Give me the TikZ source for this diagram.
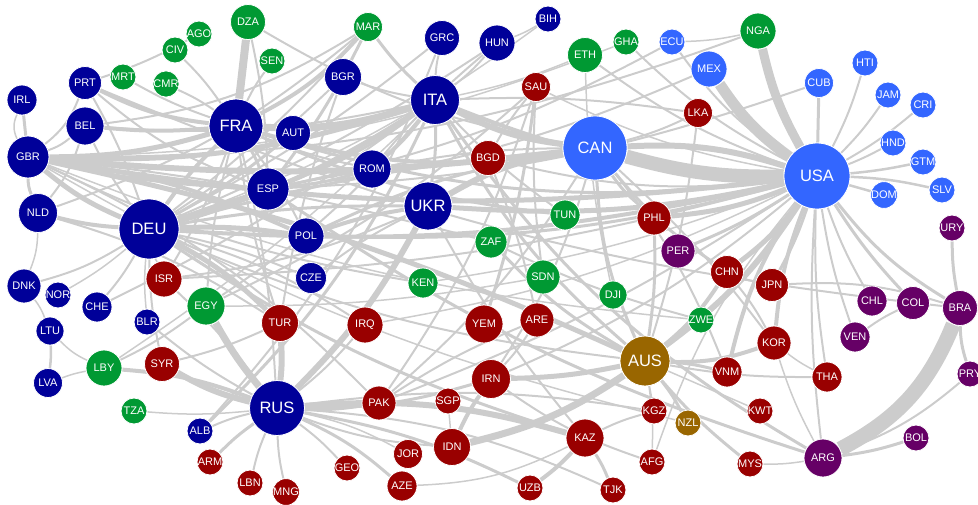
\documentclass[tikz,border=0pt]{standalone}
\usepackage{fontspec}
\setmainfont{Liberation Sans}
\usetikzlibrary{backgrounds}
\definecolor{eu}{HTML}{000099}
\definecolor{na}{HTML}{3366FF}
\definecolor{af}{HTML}{009933}
\definecolor{as}{HTML}{990000}
\definecolor{sa}{HTML}{660066}
\definecolor{oc}{HTML}{996600}
\definecolor{ed}{HTML}{CCCCCC}
\tikzset{
 ctry/.style={circle, draw=white, line width=0.8pt, inner sep=0pt, text=white, font=\fontsize{11}{12}\selectfont},
 bigc/.style={font=\fontsize{16.5}{17}\selectfont},
 lnk/.style={draw=ed, line width=#1pt},
}
\newcommand\cn[4]{\node[ctry, fill=#1, minimum size=#2*2pt] (#3) at (#4) {#3};}
\newcommand\cb[4]{\node[ctry, bigc, fill=#1, minimum size=#2*2pt] (#3) at (#4) {#3};}
\newcommand\lk[4]{\draw[lnk=#3] (#1) to[bend left=#4] (#2);}
\begin{document}
\begin{tikzpicture}[x=1pt,y=-1pt]
\useasboundingbox (0,0) rectangle (978,504);
% Europe
\cn{eu}{15}{IRL}{22,100}
\cn{eu}{16.5}{PRT}{85,83}
\cn{eu}{19}{BEL}{85,126}
\cn{eu}{21}{GBR}{28,157}
\cn{eu}{19.5}{NLD}{38,213}
\cb{eu}{30}{DEU}{149,229}
\cn{eu}{17}{DNK}{24,286}
\cn{eu}{13}{NOR}{58,295}
\cn{eu}{15}{CHE}{97,307}
\cn{eu}{14}{LTU}{50,331}
\cn{eu}{14.5}{LVA}{48,383}
\cn{eu}{13}{BLR}{147,322}
\cb{eu}{27}{FRA}{236,126}
\cn{eu}{17.5}{AUT}{293,133}
\cn{eu}{21}{ESP}{268,189}
\cn{eu}{18}{POL}{306,236}
\cn{eu}{15.5}{CZE}{311,278}
\cn{eu}{19}{ROM}{372,169}
\cn{eu}{18.5}{BGR}{343,77}
\cb{eu}{24.5}{ITA}{435,100}
\cn{eu}{17.5}{GRC}{442,38}
\cn{eu}{18}{HUN}{497,43}
\cn{eu}{13}{BIH}{548,19}
\cb{eu}{24}{UKR}{428,206}
\cb{eu}{27.5}{RUS}{277,408}
\cn{eu}{13}{ALB}{200,431}
% Africa
\cn{af}{17.5}{DZA}{248,22}
\cn{af}{13}{AGO}{199,34}
\cn{af}{13}{CIV}{175,50}
\cn{af}{13}{SEN}{272,61}
\cn{af}{13}{MRT}{123,77}
\cn{af}{13}{CMR}{166,84}
\cn{af}{14.5}{MAR}{368,27}
\cn{af}{17.5}{ETH}{585,55}
\cn{af}{13}{GHA}{626,42}
\cn{af}{18}{NGA}{758,31}
\cn{af}{15}{TUN}{565,215}
\cn{af}{16}{ZAF}{491,242}
\cn{af}{15}{KEN}{423,283}
\cn{af}{17}{SDN}{543,277}
\cn{af}{14}{DJI}{613,295}
\cn{af}{19}{EGY}{206,306}
\cn{af}{18}{LBY}{104,368}
\cn{af}{13}{TZA}{134,411}
\cn{af}{13}{ZWE}{701,320}
% Asia
\cn{as}{14.5}{SAU}{536,87}
\cn{as}{17.5}{BGD}{488,158}
\cn{as}{14.5}{LKA}{698,113}
\cn{as}{17}{PHL}{654,218}
\cn{as}{16.5}{CHN}{727,272}
\cn{as}{16.5}{JPN}{772,285}
\cn{as}{18}{ISR}{164,279}
\cn{as}{18.5}{TUR}{280,323}
\cn{as}{17.5}{SYR}{162,364}
\cn{as}{18}{IRQ}{365,325}
\cn{as}{19}{YEM}{484,324}
\cn{as}{17}{ARE}{537,320}
\cn{as}{17}{KOR}{774,343}
\cn{as}{15}{VNM}{727,372}
\cn{as}{15}{THA}{827,377}
\cn{as}{13}{KGZ}{654,411}
\cn{as}{13}{KWT}{760,411}
\cn{as}{13}{AFG}{652,462}
\cn{as}{13}{MYS}{750,464}
\cn{as}{17}{PAK}{379,403}
\cn{as}{13}{SGP}{448,401}
\cn{as}{19.5}{IRN}{491,379}
\cn{as}{18.5}{IDN}{452,447}
\cn{as}{14.5}{JOR}{408,454}
\cn{as}{13}{GEO}{347,468}
\cn{as}{15}{AZE}{402,486}
\cn{as}{13}{UZB}{530,488}
\cn{as}{19}{KAZ}{585,438}
\cn{as}{13}{TJK}{613,490}
\cn{as}{13}{ARM}{210,462}
\cn{as}{13}{LBN}{250,483}
\cn{as}{13}{MNG}{286,492}
% North America
\cb{na}{32}{CAN}{595,148}
\cb{na}{33}{USA}{817,176}
\cn{na}{13}{ECU}{672,42}
\cn{na}{18}{MEX}{709,69}
\cn{na}{14.5}{CUB}{819,83}
\cn{na}{13}{HTI}{865,63}
\cn{na}{13}{JAM}{888,95}
\cn{na}{13}{CRI}{923,105}
\cn{na}{13}{HND}{893,143}
\cn{na}{13}{GTM}{923,162}
\cn{na}{13}{DOM}{884,195}
\cn{na}{13}{SLV}{942,190}
% South America
\cn{sa}{17}{PER}{678,251}
\cn{sa}{13}{URY}{952,228}
\cn{sa}{15}{CHL}{872,301}
\cn{sa}{16.5}{COL}{913,303}
\cn{sa}{17.5}{BRA}{960,308}
\cn{sa}{15}{VEN}{855,337}
\cn{sa}{13}{PRY}{970,374}
\cn{sa}{13}{BOL}{916,438}
\cn{sa}{19}{ARG}{823,458}
% Oceania
\cb{oc}{25}{AUS}{645,361}
\cn{oc}{13}{NZL}{688,423}
\begin{scope}[on background layer]
\lk{IRL}{GBR}{3}{0}
\lk{IRL}{GBR}{1.5}{-25}
\lk{PRT}{GBR}{2}{15}
\lk{BEL}{GBR}{2}{10}
\lk{GBR}{NLD}{3}{-10}
\lk{GBR}{DEU}{5}{-8}
\lk{GBR}{FRA}{5}{-8}
\lk{GBR}{ITA}{5}{-10}
\lk{GBR}{ESP}{3}{-5}
\lk{GBR}{POL}{4}{8}
\lk{GBR}{CAN}{6}{-6}
\lk{GBR}{USA}{5}{-8}
\lk{GBR}{AUS}{5}{6}
\lk{GBR}{ZAF}{2}{4}
\lk{GBR}{PAK}{2}{10}
\lk{GBR}{NGA}{2}{-10}
\lk{PRT}{FRA}{4}{-10}
\lk{PRT}{DEU}{2}{5}
\lk{PRT}{ESP}{2}{-10}
\lk{PRT}{BRA}{2}{-8}
\lk{BEL}{FRA}{4}{-5}
\lk{BEL}{NLD}{2}{10}
\lk{BEL}{DEU}{2}{-5}
\lk{BEL}{ITA}{2}{-8}
\lk{BEL}{MAR}{2}{-12}
\lk{NLD}{DEU}{4}{-5}
\lk{NLD}{TUR}{2}{8}
\lk{NLD}{MAR}{2}{-10}
\lk{NLD}{DNK}{1.5}{10}
\lk{DNK}{DEU}{2}{-8}
\lk{DNK}{LTU}{1.5}{8}
\lk{NOR}{DEU}{1.5}{-5}
\lk{CHE}{DEU}{2}{-5}
\lk{CHE}{ITA}{2}{-5}
\lk{LTU}{LVA}{2.5}{5}
\lk{LTU}{LBY}{1.5}{-10}
\lk{LVA}{LBY}{1.5}{5}
\lk{LBY}{EGY}{2}{-5}
\lk{LBY}{RUS}{4}{8}
\lk{LBY}{ITA}{1.5}{-5}
\lk{TZA}{RUS}{1.5}{-5}
\lk{ALB}{RUS}{2}{5}
\lk{ARM}{RUS}{3}{5}
\lk{LBN}{RUS}{2}{5}
\lk{MNG}{RUS}{2}{5}
\lk{GEO}{RUS}{2}{-5}
\lk{AZE}{RUS}{3}{-8}
\lk{AZE}{KAZ}{1.5}{-12}
\lk{JOR}{RUS}{1.5}{-8}
\lk{SYR}{RUS}{6}{-8}
\lk{SYR}{DEU}{2}{5}
\lk{SYR}{TUR}{2}{-5}
\lk{EGY}{RUS}{7}{-5}
\lk{EGY}{FRA}{2}{5}
\lk{EGY}{SAU}{2}{-8}
\lk{EGY}{ITA}{2}{-8}
\lk{ISR}{RUS}{2}{5}
\lk{ISR}{UKR}{2}{-8}
\lk{ISR}{USA}{2}{-6}
\lk{ISR}{DEU}{1.5}{5}
\lk{BLR}{RUS}{2}{-5}
\lk{BLR}{DEU}{1.5}{5}
\lk{TUR}{RUS}{6}{5}
\lk{TUR}{DEU}{5}{-8}
\lk{TUR}{FRA}{2}{5}
\lk{IRQ}{RUS}{2}{5}
\lk{IRQ}{DEU}{2}{-8}
\lk{PAK}{RUS}{4}{5}
\lk{PAK}{CAN}{2}{-8}
\lk{PAK}{SAU}{2}{-8}
\lk{PAK}{USA}{2}{-6}
\lk{IRN}{RUS}{3}{8}
\lk{IRN}{AUS}{5}{-5}
\lk{IRN}{CAN}{2}{-8}
\lk{IRN}{USA}{2}{-8}
\lk{IDN}{AUS}{7}{-10}
\lk{IDN}{RUS}{2}{8}
\lk{IDN}{SGP}{1.5}{0}
\lk{IDN}{IRN}{4}{5}
\lk{KAZ}{RUS}{6}{-10}
\lk{KAZ}{UZB}{4}{5}
\lk{KAZ}{TJK}{3}{5}
\lk{KAZ}{KGZ}{2}{5}
\lk{KAZ}{DEU}{3}{8}
\lk{KAZ}{UKR}{2}{5}
\lk{UZB}{RUS}{3}{-8}
\lk{TJK}{RUS}{2}{-10}
\lk{KGZ}{RUS}{2}{-8}
\lk{AFG}{IRN}{2}{8}
\lk{AFG}{USA}{1.5}{10}
\lk{AUS}{NZL}{3}{5}
\lk{AUS}{CHN}{4}{-8}
\lk{AUS}{VNM}{3}{5}
\lk{AUS}{KOR}{4}{-10}
\lk{AUS}{THA}{2}{-5}
\lk{AUS}{MYS}{3}{-5}
\lk{AUS}{KWT}{1.5}{0}
\lk{AUS}{PHL}{3}{-5}
\lk{AUS}{ZAF}{3}{8}
\lk{AUS}{ITA}{3}{10}
\lk{AUS}{DEU}{2}{8}
\lk{AUS}{USA}{6}{-10}
\lk{AUS}{CAN}{3}{10}
\lk{AUS}{LKA}{2}{-5}
\lk{AUS}{KGZ}{1.5}{0}
\lk{AUS}{AFG}{1.5}{5}
\lk{ARG}{BRA}{15}{-20}
\lk{ARG}{BOL}{3}{-5}
\lk{ARG}{PRY}{2}{-10}
\lk{ARG}{ITA}{3}{12}
\lk{ARG}{ESP}{3}{8}
\lk{ARG}{KOR}{1.5}{5}
\lk{ARG}{MYS}{1.5}{5}
\lk{ARG}{USA}{2}{5}
\lk{BRA}{URY}{3}{5}
\lk{BRA}{PRY}{3}{-8}
\lk{BRA}{USA}{3}{10}
\lk{BRA}{JPN}{2}{-10}
\lk{COL}{USA}{3}{5}
\lk{COL}{VEN}{2}{-5}
\lk{CHL}{USA}{2}{5}
\lk{VEN}{USA}{2}{5}
\lk{PER}{USA}{3}{-5}
\lk{CHN}{USA}{5}{-8}
\lk{CHN}{CAN}{3}{8}
\lk{CHN}{KOR}{2}{5}
\lk{CHN}{JPN}{2}{-5}
\lk{JPN}{USA}{3}{-5}
\lk{KOR}{USA}{4}{8}
\lk{VNM}{USA}{4}{10}
\lk{PHL}{USA}{5}{-8}
\lk{PHL}{CAN}{3}{8}
\lk{THA}{USA}{2}{5}
\lk{THA}{KOR}{1.5}{5}
\lk{LKA}{CAN}{2}{5}
\lk{LKA}{ITA}{2}{-5}
\lk{CUB}{USA}{3}{0}
\lk{CUB}{ESP}{2}{8}
\lk{HTI}{USA}{2}{5}
\lk{JAM}{USA}{2}{5}
\lk{CRI}{USA}{2}{5}
\lk{HND}{USA}{2}{3}
\lk{GTM}{USA}{2.5}{3}
\lk{SLV}{USA}{2.5}{-5}
\lk{DOM}{USA}{2.5}{0}
\lk{MEX}{USA}{11}{-10}
\lk{NGA}{USA}{9}{-8}
\lk{NGA}{ECU}{1.5}{5}
\lk{ECU}{USA}{2}{-10}
\lk{ECU}{ESP}{2}{8}
\lk{MEX}{ESP}{2}{8}
\lk{ETH}{USA}{2}{-8}
\lk{GHA}{USA}{2}{-8}
\lk{GHA}{GBR}{1.5}{10}
\lk{CAN}{USA}{14}{-8}
\lk{CAN}{USA}{6}{10}
\lk{CAN}{ITA}{6}{10}
\lk{CAN}{FRA}{4}{12}
\lk{CAN}{UKR}{6}{-10}
\lk{CAN}{POL}{3}{-8}
\lk{CAN}{DEU}{3}{-5}
\lk{CAN}{ROM}{2}{-5}
\lk{CAN}{KOR}{2}{5}
\lk{CAN}{VNM}{2}{8}
\lk{USA}{DEU}{4}{8}
\lk{USA}{ITA}{4}{10}
\lk{USA}{UKR}{5}{8}
\lk{USA}{POL}{3}{8}
\lk{USA}{FRA}{3}{12}
\lk{USA}{BGD}{2}{10}
\lk{USA}{IRQ}{1.5}{8}
\lk{USA}{KEN}{1.5}{6}
\lk{FRA}{DZA}{8}{0}
\lk{FRA}{MAR}{4}{-10}
\lk{FRA}{SEN}{2}{5}
\lk{FRA}{CIV}{2}{-5}
\lk{FRA}{CMR}{2}{-5}
\lk{FRA}{MRT}{2}{5}
\lk{AGO}{PRT}{2}{5}
\lk{FRA}{TUN}{3}{-8}
\lk{FRA}{ITA}{7}{-10}
\lk{FRA}{ESP}{3}{5}
\lk{FRA}{DEU}{4}{-5}
\lk{FRA}{POL}{2}{5}
\lk{FRA}{ROM}{2}{-5}
\lk{FRA}{RUS}{2}{5}
\lk{FRA}{ISR}{2}{5}
\lk{DZA}{CAN}{2}{-10}
\lk{DZA}{ESP}{2}{5}
\lk{MAR}{ITA}{3}{-5}
\lk{MAR}{ESP}{3}{5}
\lk{MAR}{DEU}{2}{5}
\lk{ESP}{ROM}{3}{-5}
\lk{ESP}{ITA}{3}{-8}
\lk{ESP}{DEU}{3}{5}
\lk{ITA}{ROM}{4}{5}
\lk{ITA}{ALB}{3}{10}
\lk{ITA}{GRC}{2}{5}
\lk{ITA}{HUN}{2}{-5}
\lk{ITA}{BGR}{2}{5}
\lk{ITA}{UKR}{3}{5}
\lk{ITA}{DEU}{5}{8}
\lk{ITA}{ETH}{1.5}{-5}
\lk{ROM}{DEU}{3}{-5}
\lk{ROM}{HUN}{2}{5}
\lk{UKR}{RUS}{6}{8}
\lk{UKR}{POL}{4}{-5}
\lk{UKR}{DEU}{3}{-5}
\lk{POL}{DEU}{5}{-5}
\lk{CZE}{DEU}{2}{-5}
\lk{CZE}{UKR}{2}{5}
\lk{GRC}{DEU}{2}{5}
\lk{GRC}{ALB}{2}{10}
\lk{HUN}{DEU}{2}{5}
\lk{BIH}{HUN}{1.5}{5}
\lk{BIH}{DEU}{1.5}{8}
\lk{BGR}{DEU}{2}{5}
\lk{BGR}{TUR}{2}{-5}
\lk{AUT}{DEU}{3}{5}
\lk{AUT}{ITA}{2}{-5}
\lk{SAU}{YEM}{3}{5}
\lk{SAU}{USA}{1.5}{-8}
\lk{BGD}{SAU}{2}{5}
\lk{BGD}{ARE}{2}{5}
\lk{ARE}{PAK}{2}{-5}
\lk{ARE}{IRN}{2}{5}
\lk{SDN}{SAU}{2}{5}
\lk{ZAF}{ZWE}{2}{-5}
\lk{ZWE}{GBR}{1.5}{8}
\lk{KEN}{GBR}{2}{8}
\lk{TUN}{ITA}{2}{5}
\lk{DJI}{ETH}{1.5}{5}
\lk{SDN}{EGY}{1.5}{5}
\lk{NZL}{GBR}{1.5}{8}
\end{scope}
\end{tikzpicture}
\end{document}
